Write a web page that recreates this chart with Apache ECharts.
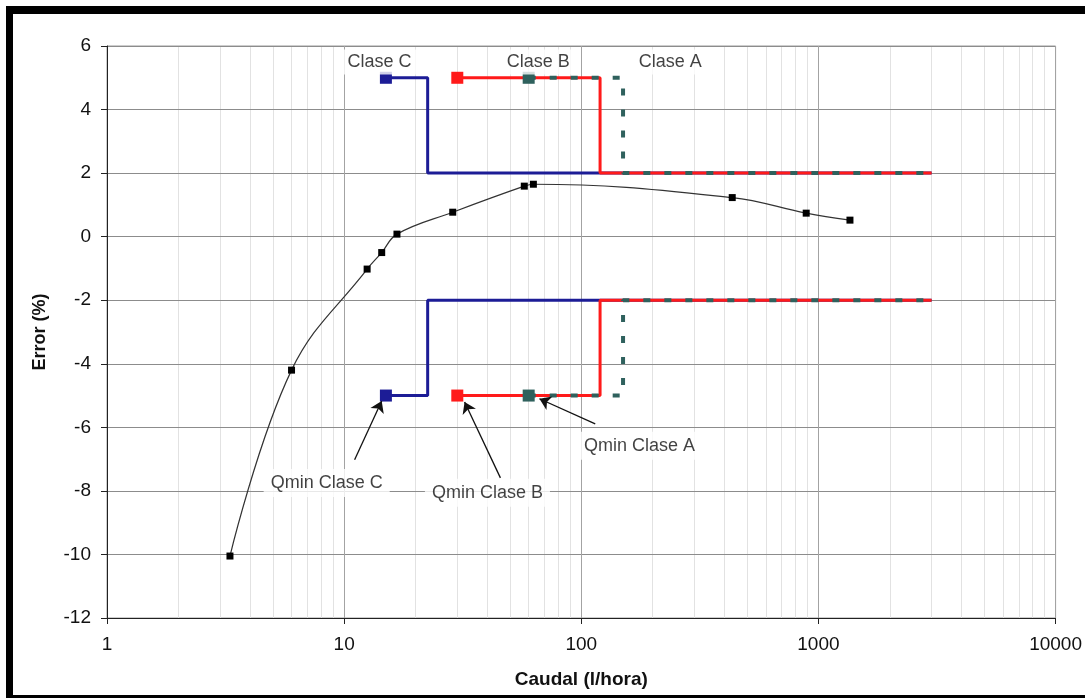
<!DOCTYPE html>
<html>
<head>
<meta charset="utf-8">
<script src="https://cdn.jsdelivr.net/npm/echarts@6/dist/echarts.min.js"></script>
<style>
  html, body { margin: 0; padding: 0; background: #fff; }
  #chart { position: absolute; left: 0; top: 0; width: 1085px; height: 698px; }
  #frame {
    position: absolute; left: 6px; top: 6px; width: 1100px; height: 681px;
    border-top: 8px solid #000; border-left: 7px solid #000; border-bottom: 5px solid #000;
    pointer-events: none;
  }
</style>
</head>
<body>
<div id="chart"></div>
<div id="frame"></div>
<script>
// Measured meter curve: flow (l/h) and error (%)
const caudal = [3.3, 6, 12.5, 14.4, 16.7, 28.7, 57.5, 62.8, 433, 888, 1358];
const errorMedido = [-10.05, -4.2, -1.02, -0.5, 0.08, 0.77, 1.59, 1.65, 1.23, 0.74, 0.52];

// Metrological classes: minimum flow, transition flow, overload flow (l/h)
const clases = ['Clase C', 'Clase B', 'Clase A'];
const qmin = [15, 30, 60];
const qt = [22.5, 120, 150];
const qmax = 3000;
const emaZonaInferior = 5;   // max permissible error between qmin and qt (%)
const emaZonaSuperior = 2;   // max permissible error between qt and qmax (%)
const coloresClase = ['#1c1c96', '#ff1a1a', '#2f615d'];

// Class name labels above the upper limits
const etiquetasClase = [[14.1, 5.5, 'Clase C'], [65.9, 5.5, 'Clase B'], [237, 5.5, 'Clase A']];
// Qmin callouts: label position and arrow (from -> to)
const etiquetasQmin = [[8.44, -7.75, 'Qmin Clase C'], [40.2, -8.06, 'Qmin Clase B'], [176, -6.58, 'Qmin Clase A']];
const flechasQmin = [
  [[11.07, -7.02], [14.4, -5.17]],
  [[45.6, -7.59], [32.2, -5.2]],
  [[114.5, -5.89], [66.6, -5.1]]
];

// Axis ticks and minor vertical grid positions
const ticksX = [1, 10, 100, 1000, 10000];
const rejillaMenor = [2, 3, 4, 5, 6, 7, 8, 9, 20, 30, 40, 50, 60, 70, 80, 90,
  200, 300, 400, 500, 600, 700, 800, 900, 2000, 3000, 4000, 5000, 6000, 7000, 8000, 9000];

const FONT = '"Liberation Sans", Arial, sans-serif';

function limite(i, signo) {
  return [
    [qmin[i], signo * emaZonaInferior],
    [qt[i], signo * emaZonaInferior],
    [qt[i], signo * emaZonaSuperior],
    [qmax, signo * emaZonaSuperior]
  ];
}

const seriesClase = [];
clases.forEach(function (nombre, i) {
  [1, -1].forEach(function (signo) {
    const esA = i === 2;
    seriesClase.push({
      name: nombre,
      type: 'line',
      z: 3 + i,
      data: limite(i, signo),
      symbol: function (v, p) { return p.dataIndex === 0 ? 'rect' : 'none'; },
      symbolSize: 12,
      showAllSymbol: true,
      itemStyle: { color: coloresClase[i] },
      lineStyle: esA
        ? { color: coloresClase[i], width: 4, type: [7, 14] }
        : { color: coloresClase[i], width: 3 },
      emphasis: { disabled: true },
      animation: false
    });
  });
});

const chart = echarts.init(document.getElementById('chart'), null, { renderer: 'canvas' });

chart.setOption({
  backgroundColor: '#ffffff',
  animation: false,
  textStyle: { fontFamily: FONT },
  grid: {
    left: 107, right: 28, top: 46, bottom: 80,
    show: true, borderColor: '#9a9a9a', borderWidth: 1, backgroundColor: '#fff'
  },
  xAxis: {
    type: 'log', logBase: 10, min: 1, max: 10000, z: 2,
    name: 'Caudal (l/hora)', nameLocation: 'middle', nameGap: 52,
    nameTextStyle: { fontFamily: FONT, fontSize: 19, fontWeight: 'bold', color: '#111' },
    axisLine: { show: true, onZero: false, lineStyle: { color: '#222', width: 1 } },
    axisTick: { show: true, inside: false, length: 6, lineStyle: { color: '#222' } },
    axisLabel: {
      fontFamily: FONT, fontSize: 19, color: '#111', margin: 17,
      formatter: function (v) { return ticksX.indexOf(v) >= 0 ? String(v) : ''; }
    },
    splitLine: { show: true, lineStyle: { color: '#a3a3a3', width: 1 } },
    minorTick: { show: false }, minorSplitLine: { show: false }
  },
  yAxis: {
    type: 'value', min: -12, max: 6, interval: 2, z: 2,
    name: 'Error (%)', nameLocation: 'middle', nameGap: 58, nameRotate: 90,
    nameTextStyle: { fontFamily: FONT, fontSize: 18, fontWeight: 'bold', color: '#111' },
    axisLine: { show: true, onZero: false, lineStyle: { color: '#222', width: 1 } },
    axisTick: { show: true, inside: false, length: 6, lineStyle: { color: '#222' } },
    axisLabel: { fontFamily: FONT, fontSize: 19, color: '#111', margin: 16 },
    splitLine: { show: true, lineStyle: { color: '#8c8c8c', width: 1 } }
  },
  series: [
    {
      // minor vertical grid of the log axis
      name: 'rejilla', type: 'line', data: [], silent: true, z: 1,
      markLine: {
        silent: true, symbol: 'none', z: 1, animation: false,
        label: { show: false },
        lineStyle: { color: '#e2e2e2', width: 1, type: 'solid' },
        emphasis: { disabled: true },
        data: rejillaMenor.map(function (v) { return { xAxis: v }; })
      }
    },
    ...seriesClase,
    {
      name: 'Error medido', type: 'line', z: 6,
      data: caudal.map(function (q, i) { return [q, errorMedido[i]]; }),
      smooth: 0.4,
      symbol: 'rect', symbolSize: 7, showAllSymbol: true,
      itemStyle: { color: '#000' },
      lineStyle: { color: '#333', width: 1.2 },
      emphasis: { disabled: true }
    },
    {
      name: 'Clases', type: 'scatter', z: 10, silent: true,
      data: etiquetasClase, symbolSize: 0,
      label: {
        show: true, position: 'inside', fontFamily: FONT, fontSize: 18, color: '#111',
        backgroundColor: '#fff', padding: [3, 6, 4, 6],
        formatter: function (p) { return p.value[2]; }
      }
    },
    {
      name: 'Qmin', type: 'scatter', z: 10, silent: true,
      data: etiquetasQmin, symbolSize: 0,
      label: {
        show: true, position: 'inside', fontFamily: FONT, fontSize: 18, color: '#111',
        backgroundColor: '#fff', padding: [5, 7, 5, 7],
        formatter: function (p) { return p.value[2]; }
      },
      markLine: {
        silent: true, z: 9, animation: false,
        symbol: ['none', 'arrow'], symbolSize: 11,
        label: { show: false },
        lineStyle: { color: '#111', width: 1.3, type: 'solid' },
        emphasis: { disabled: true },
        data: flechasQmin.map(function (f) {
          return [{ coord: f[0] }, { coord: f[1] }];
        })
      }
    }
  ]
});
</script>
</body>
</html>
